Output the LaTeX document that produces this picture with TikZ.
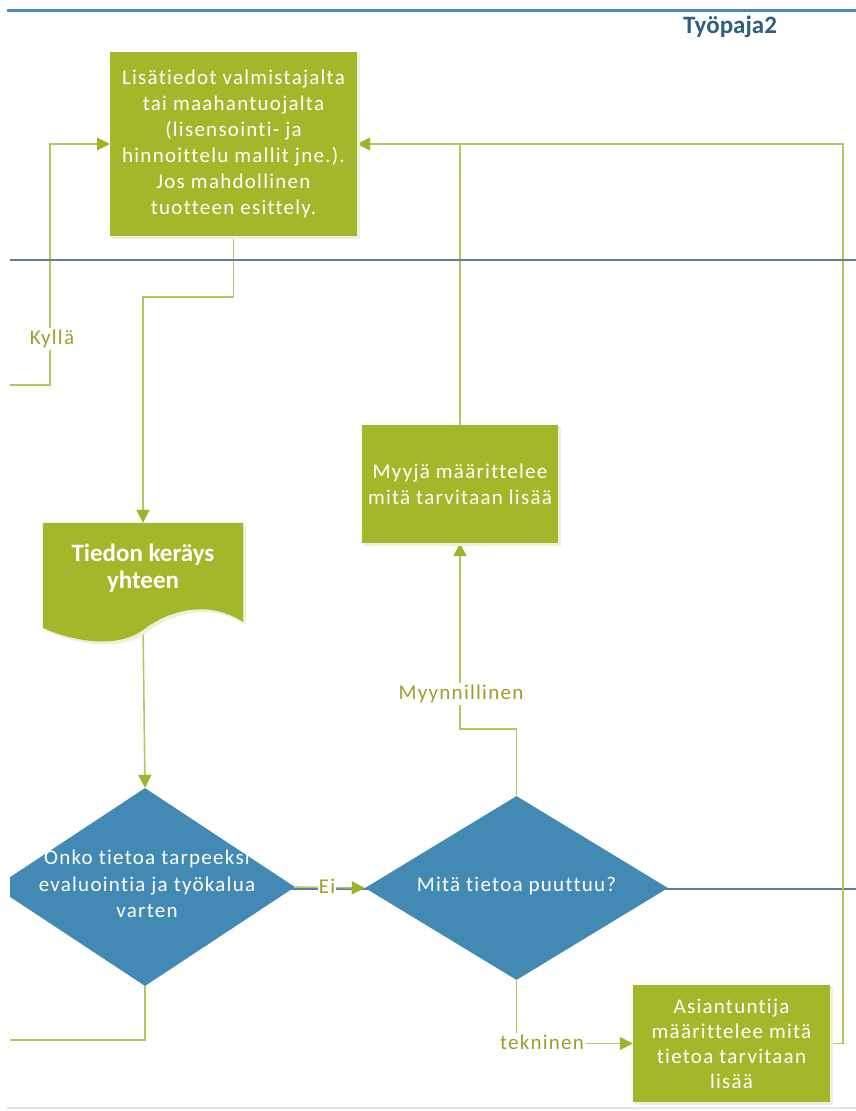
\documentclass[tikz,border=0pt]{standalone}
\usepackage{fontspec}
\setmainfont[Ligatures=NoCommon]{Carlito}
\newfontfamily\wideface[LetterSpace=6,Ligatures=NoCommon]{Carlito}
\usetikzlibrary{arrows.meta,shapes.geometric}
\pgfdeclarelayer{background}
\pgfsetlayers{background,main}

\definecolor{boxgreen}{HTML}{A4B62A}
\definecolor{linegreen}{HTML}{B6C65E}
\definecolor{tipgreen}{HTML}{9DB328}
\definecolor{shadowgreen}{HTML}{EDF0DA}
\definecolor{decblue}{HTML}{428AB4}
\definecolor{lane}{HTML}{5D7E97}
\definecolor{topline}{HTML}{4F87B9}
\definecolor{bottomline}{HTML}{D9E8F3}
\definecolor{labelcol}{HTML}{A39C2B}
\definecolor{titlecol}{HTML}{2F5E7E}

\begin{document}
\begin{tikzpicture}[x=1pt,y=-1pt,
  proc/.style={fill=boxgreen, text=white, align=center, inner sep=0pt,
    font=\wideface\fontsize{21}{26}\selectfont},
  decision/.style={shape=diamond, fill=decblue, inner sep=0pt},
  dectext/.style={text=white, align=center, inner sep=0pt,
    font=\wideface\fontsize{21}{26.5}\selectfont},
  link/.style={draw=linegreen, line width=1.6pt},
  flow/.style={link, -{Triangle[length=13pt,width=13pt,color=tipgreen]}},
  lbl/.style={fill=white, text=labelcol, inner sep=2pt,
    font=\wideface\fontsize{21}{22}\selectfont},
  laneline/.style={draw=lane, line width=2.6pt}
]
\useasboundingbox (0,0) rectangle (856,1111);

% page rules and lane separators
\draw[draw=topline, line width=3pt] (7,10) -- (856,10);
\draw[draw=bottomline, line width=2pt] (7,1108) -- (856,1108);
\draw[laneline] (10,260) -- (856,260);

\node[font=\bfseries\fontsize{25}{25}\selectfont, text=titlecol] (title) at (730,27) {Työpaja2};

% process boxes
\fill[shadowgreen] (112,54) rectangle (360,239);
\node[proc, minimum width=247pt, minimum height=184pt] (info) at (233.5,144)
  {Lisätiedot valmistajalta\\tai maahantuojalta\\(lisensointi- ja\\hinnoittelu mallit jne.).\\Jos mahdollinen\\tuotteen esittely.};

\fill[shadowgreen] (364,427) rectangle (561,546);
\node[proc, minimum width=196pt, minimum height=118pt] (seller) at (460,484)
  {Myyjä määrittelee\\mitä tarvitaan lisää};

\fill[shadowgreen] (635,987) rectangle (833,1105);
\node[proc, minimum width=197pt, minimum height=117pt,
  font=\wideface\fontsize{21}{25}\selectfont] (expert) at (731.5,1043.5)
  {Asiantuntija\\määrittelee mitä\\tietoa tarvitaan\\lisää};

% document shape
\node[minimum width=200pt, minimum height=100pt, inner sep=0pt] (doc) at (143,573) {};
\fill[shadowgreen] ([shift={(3,3)}]doc.north west) -- ([shift={(3,3)}]doc.north east)
  -- (246,625) .. controls (213,603) and (173,612) .. (146,633)
  .. controls (118,653) and (73,643) .. (46,631) -- cycle;
\fill[boxgreen] (doc.north west) -- (doc.north east)
  -- (243,622) .. controls (210,600) and (170,609) .. (143,630)
  .. controls (115,650) and (70,640) .. (43,628) -- cycle;
\node[text=white, align=center, inner sep=0pt,
  font=\bfseries\fontsize{25}{27}\selectfont] (doctext) at (143,568) {Tiedon keräys\\yhteen};

% decisions
\begin{scope}
  \clip (10,700) rectangle (400,1000);
  \node[decision, minimum width=300pt, minimum height=198pt] (enough) at (145,887) {};
\end{scope}
\node[dectext] (enoughtext) at (147,884) {Onko tietoa tarpeeksi\\evaluointia ja työkalua\\varten};

\node[decision, minimum width=303pt, minimum height=184pt] (missing) at (516.5,888) {};
\node[dectext] (missingtext) at (516.5,886) {Mitä tietoa puuttuu?};

% free ends at the page edge
\coordinate (yesin) at (10,385);
\coordinate (yesbend) at (50,385);
\coordinate (noout) at (10,1040);

% connectors
\begin{pgfonlayer}{background}
  \draw[laneline] (10,889) -- (856,889);
  \draw[flow] (info.south) -- ++(0,61) -| (doc.north);
  \draw[flow] (doc.south) -- (enough.north);
  \draw[flow] (yesin) -- (yesbend) |- (info.west);
  \draw[flow] (enough.east) -- (missing.west);
  \draw[flow] (missing.north) -- ++(0,-67) -| (seller.south);
  \draw[link] (seller.north) -- (seller.north |- info.east);
  \draw[flow] (expert.east) -- ++(13,0) |- (info.east);
  \draw[link] (enough.south) |- (noout);
  \draw[flow] (missing.south) |- (expert.west);
\end{pgfonlayer}

% connector labels
\node[lbl] (yeslabel) at (52,339) {Kyllä};
\node[lbl, inner sep=1pt] (nolabel) at (327,886) {Ei};
\node[lbl] (saleslabel) at (461,694) {Myynnillinen};
\node[lbl] (techlabel) at (542,1042) {tekninen};
\end{tikzpicture}
\end{document}
